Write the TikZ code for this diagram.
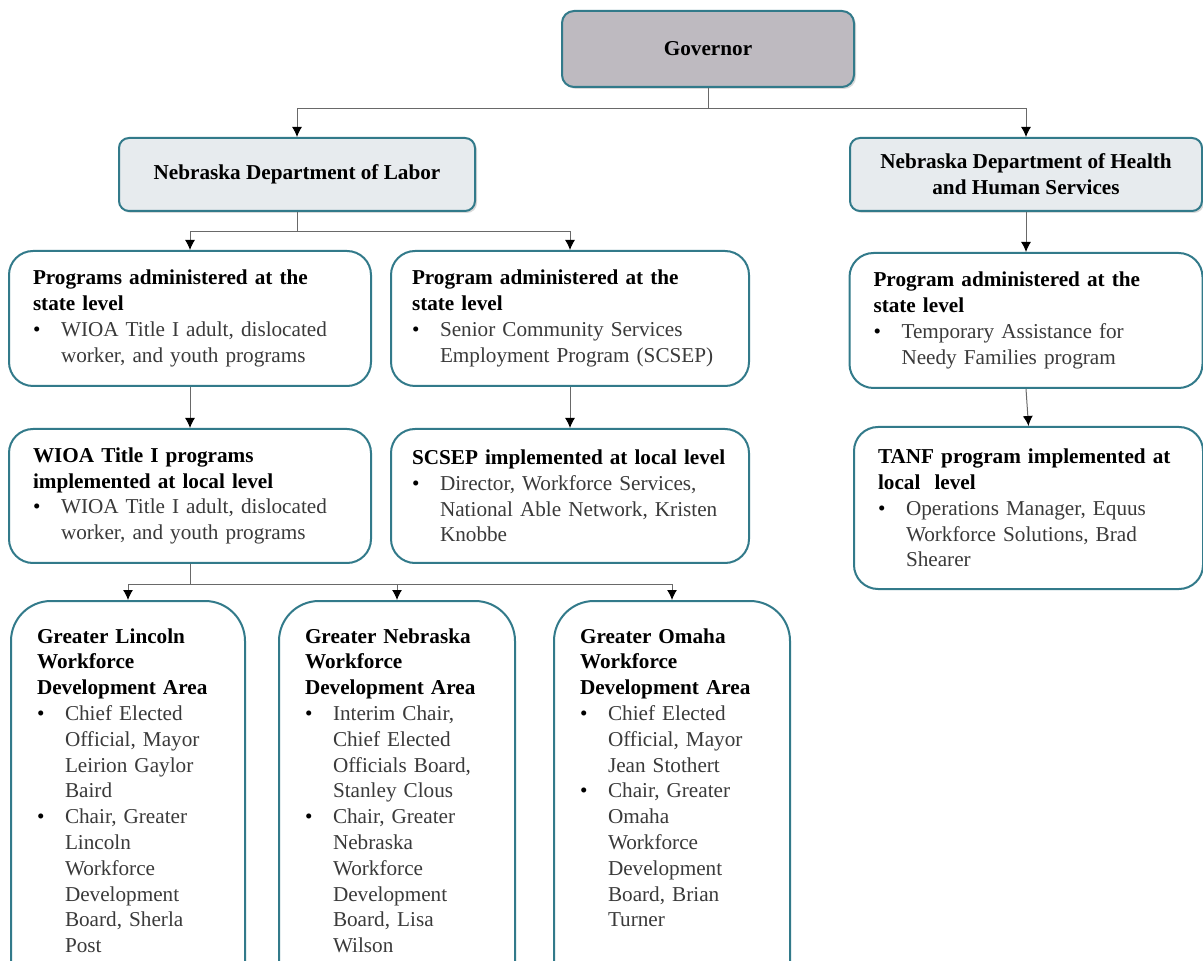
\documentclass[tikz,border=0pt]{standalone}
\usepackage{fontspec}
\setmainfont{Liberation Serif}
\usepackage{xcolor}
\usepackage{tikz}
\usetikzlibrary{arrows.meta,positioning,shadows}
\definecolor{boxline}{RGB}{50, 122, 138}
\definecolor{govfill}{RGB}{190, 186, 192}
\definecolor{deptfill}{RGB}{231, 235, 238}
\definecolor{bodytext}{RGB}{58, 58, 58}
\definecolor{wire}{RGB}{105, 105, 105}
\newcommand{\txt}{\fontsize{10.6}{12.9}\selectfont}
\newcommand{\bul}[1]{\par\hangindent=14pt\hangafter=1\noindent\makebox[14pt][l]{\textbullet}{\color{bodytext}#1}\par}
\tikzstyle{gov} = [rectangle, rounded corners=6pt, draw=boxline, line width=1pt, fill=govfill, text=black, font=\txt\bfseries, minimum width=146pt, minimum height=38pt, anchor=north west, drop shadow={shadow xshift=1pt, shadow yshift=-1pt, opacity=0.3}]
\tikzstyle{dept} = [rectangle, rounded corners=5pt, draw=boxline, line width=1pt, fill=deptfill, text=black, font=\txt\bfseries, align=center, minimum height=36.5pt, anchor=north west, drop shadow={shadow xshift=1pt, shadow yshift=-1pt, opacity=0.3}]
\tikzstyle{prog} = [rectangle, rounded corners=12pt, draw=boxline, line width=1pt, fill=white, text=black, font=\txt, align=left, inner xsep=12pt, minimum height=67.5pt, anchor=north west]
\tikzstyle{area} = [rectangle, rounded corners=20pt, draw=boxline, line width=1pt, fill=white, text=black, font=\txt, align=left, inner xsep=13pt, inner ysep=11pt, text height=10pt, text depth=175pt, anchor=north west]
\tikzstyle{tedge} = [draw, color=wire, line width=0.5pt, -{Latex[length=5pt, width=5pt, color=black]}]

\begin{document}
\begin{tikzpicture}[x=0.5pt, y=-0.5pt]
\useasboundingbox (0,0) rectangle (1203,961);
\clip (0,0) rectangle (1203,961);

% top level =============================
\node[gov] (gov) at (561,10) {Governor};
\node[dept, minimum width=178pt] (dol) at (118,137) {Nebraska Department of Labor};
\node[dept, minimum width=176pt] (dhhs) at (849,137) {Nebraska Department of Health\\and Human Services};

% state level
\node[prog, text width=157pt] (progA) at (8,250) {\textbf{Programs administered at the\\state level}\bul{WIOA Title I adult, dislocated\newline worker, and youth programs}};
\node[prog, text width=158pt, inner xsep=10.5pt] (progB) at (390,250) {\textbf{Program administered at the\\state level}\bul{Senior Community Services\newline Employment Program (SCSEP)}};
\node[prog, text width=152.5pt, below=20pt of dhhs] (progC) {\textbf{Program administered at the\\state level}\bul{Temporary Assistance for\newline Needy Families program}};

% local level
\node[prog, text width=157pt, minimum height=67pt, below=20.5pt of progA] (implA) {\textbf{WIOA Title I programs\\implemented at local level}\bul{WIOA Title I adult, dislocated\newline worker, and youth programs}};
\node[prog, text width=158pt, inner xsep=10.5pt, minimum height=67pt, below=20.5pt of progB] (implB) {\textbf{SCSEP implemented at local level}\bul{Director, Workforce Services,\newline National Able Network, Kristen\newline Knobbe}};
\node[prog, text width=150.5pt, minimum height=81pt] (implC) at (853,426) {\textbf{TANF program implemented at\\local\ \ level}\bul{Operations Manager, Equus\newline Workforce Solutions, Brad\newline Shearer}};

% workforce development areas
\node[area, text width=91pt] (areaL) at (10,600) {\textbf{Greater Lincoln\\Workforce\\Development Area}\bul{Chief Elected\newline Official, Mayor\newline Leirion Gaylor\newline Baird}\bul{Chair, Greater\newline Lincoln\newline Workforce\newline Development\newline Board, Sherla\newline Post}};
\node[area, text width=92pt] (areaN) at (278,600) {\textbf{Greater Nebraska\\Workforce\\Development Area}\bul{Interim Chair,\newline Chief Elected\newline Officials Board,\newline Stanley Clous}\bul{Chair, Greater\newline Nebraska\newline Workforce\newline Development\newline Board, Lisa\newline Wilson}};
\node[area, text width=92pt] (areaO) at (553,600) {\textbf{Greater Omaha\\Workforce\\Development Area}\bul{Chief Elected\newline Official, Mayor\newline Jean Stothert}\bul{Chair, Greater\newline Omaha\newline Workforce\newline Development\newline Board, Brian\newline Turner}};

% edges
\path[tedge] (gov.south) -- ++(0,21) -| (dol.north);
\path[tedge] (gov.south) -- ++(0,21) -| (dhhs.north);
\path[tedge] (dol.south) -- ++(0,20) -| (progA.north);
\path[tedge] (dol.south) -- ++(0,20) -| (progB.north);
\path[tedge] (dhhs) -- (progC);
\path[tedge] (progA) -- (implA);
\path[tedge] (progB) -- (implB);
\path[tedge] (progC.south) -- (implC.north);
\path[tedge] (implA.south) -- ++(0,20) -| (areaL.north);
\path[tedge] (implA.south) -- ++(0,20) -| (areaN.north);
\path[tedge] (implA.south) -- ++(0,20) -| (areaO.north);

\end{tikzpicture}
\end{document}
